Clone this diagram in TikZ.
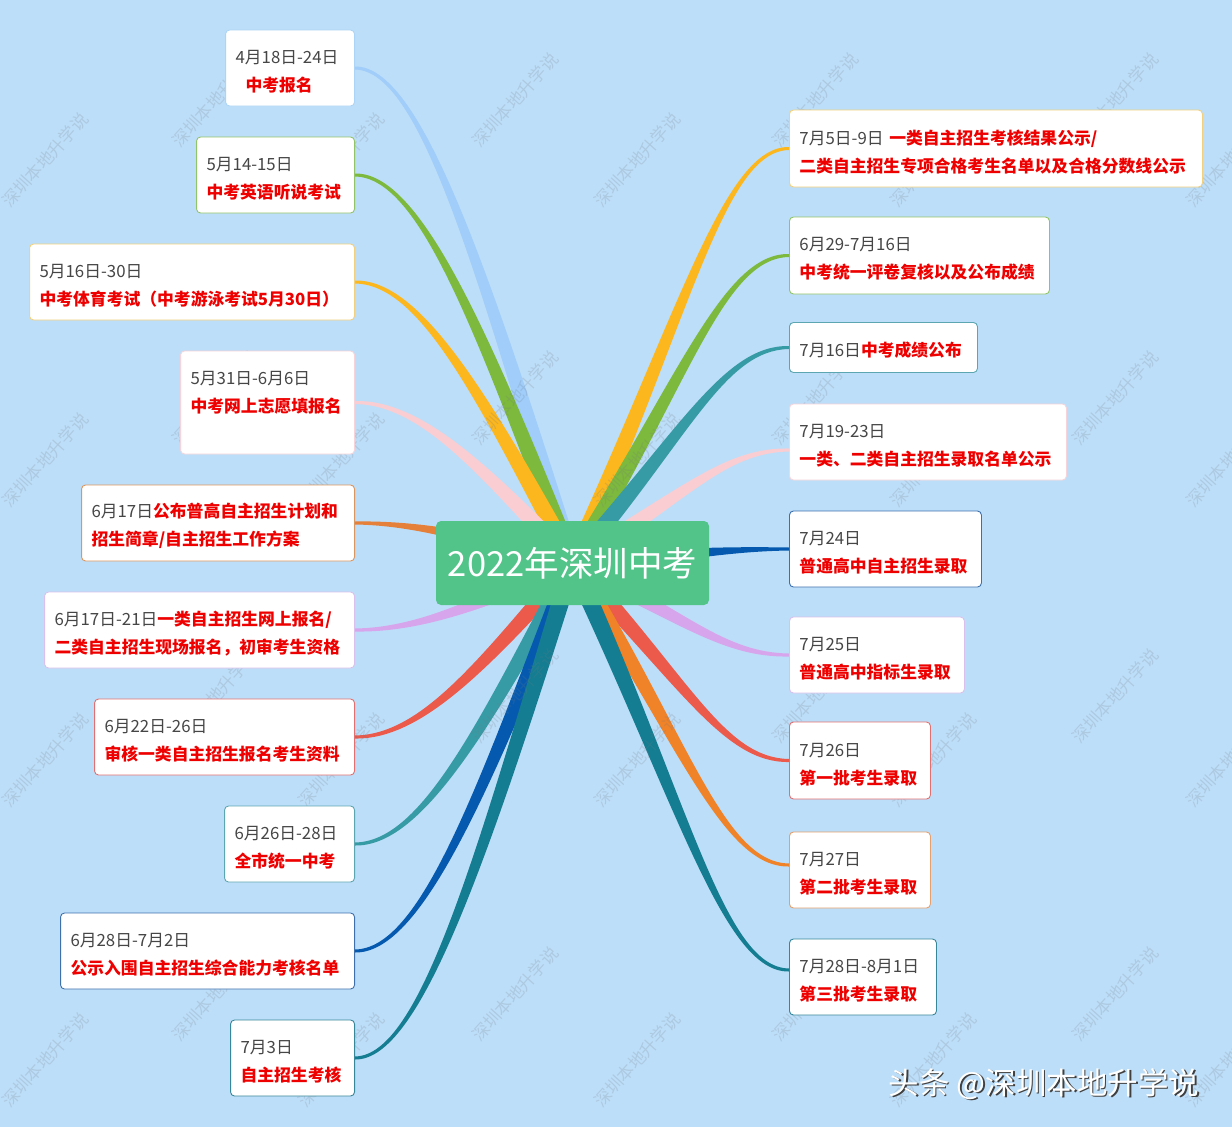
\documentclass[tikz,border=0pt]{standalone}
\usepackage{fontspec}
\setmainfont{Noto Sans CJK SC}
\usetikzlibrary{calc}
\definecolor{bgblue}{RGB}{189,222,248}
\definecolor{cgreen}{RGB}{82,196,138}
\definecolor{dategray}{RGB}{70,70,70}
\definecolor{txtred}{RGB}{238,0,0}
\definecolor{wmcol}{RGB}{110,120,135}
% ribbon colours
\definecolor{cLB}{RGB}{160,205,250}
\definecolor{cGR}{RGB}{125,185,60}
\definecolor{cYE}{RGB}{252,183,30}
\definecolor{cPK}{RGB}{250,205,210}
\definecolor{cOR}{RGB}{228,128,58}
\definecolor{cPU}{RGB}{215,165,235}
\definecolor{cRD}{RGB}{235,90,75}
\definecolor{cTL}{RGB}{55,155,165}
\definecolor{cBL}{RGB}{5,90,175}
\definecolor{cDT}{RGB}{20,125,145}
\definecolor{cOR2}{RGB}{240,130,40}
% border colours
\definecolor{bLB}{RGB}{172,212,246}
\definecolor{bGR}{RGB}{145,195,105}
\definecolor{bYE}{RGB}{242,208,125}
\definecolor{bPK}{RGB}{246,212,218}
\definecolor{bOR}{RGB}{218,150,95}
\definecolor{bPU}{RGB}{218,192,236}
\definecolor{bRD}{RGB}{226,112,112}
\definecolor{bTL}{RGB}{92,166,178}
\definecolor{bBL}{RGB}{62,112,172}
\definecolor{bDT}{RGB}{55,135,155}
\definecolor{bOR2}{RGB}{228,160,110}
\newcommand\redt[1]{\textcolor{txtred}{\bfseries #1}}
\pgfdeclarelayer{backlayer}
\pgfdeclarelayer{midlayer}
\pgfsetlayers{backlayer,midlayer,main}
% tapered ribbon: colour, start, end, x-factor of first control point
\newcommand\ribbon[4]{%
\fill[#1] let \p1=(#2), \p2=(#3),
  \p3=({\x1+#4*(\x2-\x1)},{\y1+0.6*(\y2-\y1)}),
  \p4=({\x2+0.3*(\x1-\x2)},{\y2}) in
  ($(\p1)!9pt!90:(\p3)$) .. controls ($(\p3)!6.5pt!-90:(\p1)$) and ($(\p4)!2.6pt!90:(\p2)$) .. ($(\p2)!1.5pt!-90:(\p4)$)
  -- ($(\p2)!1.5pt!90:(\p4)$) .. controls ($(\p4)!2.6pt!-90:(\p2)$) and ($(\p3)!6.5pt!90:(\p1)$) .. ($(\p1)!9pt!-90:(\p3)$) -- cycle;}
\tikzset{
  mbox/.style={draw=#1, fill=white, rounded corners=4pt, line width=0.9pt,
    inner xsep=10pt, inner ysep=0pt, align=left, minimum height=76pt,
    font=\fontsize{16.8}{28}\selectfont, text=dategray,
    execute at begin node={\rule{0pt}{20.8pt}}},
  lbox/.style={mbox=#1, anchor=east},
  rbox/.style={mbox=#1, anchor=west},
  wm/.style={text=wmcol, text opacity=0.2, rotate=48, font=\fontsize{17}{20}\selectfont, inner sep=0pt},
}
\begin{document}
\begin{tikzpicture}[x=1pt,y=-1pt]
\begin{pgfonlayer}{backlayer}
\fill[bgblue] (0,0) rectangle (1232,1127);
\end{pgfonlayer}
\useasboundingbox (0,0) rectangle (1232,1127);

% centre
\node[fill=cgreen, rounded corners=5pt, minimum width=273pt, minimum height=84pt,
      inner sep=0pt, text=white, font=\fontsize{34.5}{40}\selectfont] (c) at (572.5,563) {2022年深圳中考};

% left boxes
\node[lbox=bLB, text width=109pt] (l1) at (355,68) {4月18日-24日\\\hspace*{10pt}\redt{中考报名}};
\node[lbox=bGR, text width=138pt] (l2) at (355,175) {5月14-15日\\\redt{中考英语听说考试}};
\node[lbox=bYE, text width=305pt] (l3) at (355,282) {5月16日-30日\\\redt{中考体育考试（中考游泳考试5月30日）}};
\node[lbox=bPK, text width=154pt, minimum height=103pt] (l4) at (355,402.5) {5月31日-6月6日\\\redt{中考网上志愿填报名}\\\mbox{}};
\node[lbox=bOR, text width=253pt] (l5) at (355,523) {6月17日\redt{公布普高自主招生计划和}\\\redt{招生简章/自主招生工作方案}};
\node[lbox=bPU, text width=290pt] (l6) at (355,630) {6月17日-21日\redt{一类自主招生网上报名/}\\\redt{二类自主招生现场报名，初审考生资格}};
\node[lbox=bRD, text width=240pt] (l7) at (355,737) {6月22日-26日\\\redt{审核一类自主招生报名考生资料}};
\node[lbox=bTL, text width=110pt] (l8) at (355,844) {6月26日-28日\\\redt{全市统一中考}};
\node[lbox=bBL, text width=274pt] (l9) at (355,951) {6月28日-7月2日\\\redt{公示入围自主招生综合能力考核名单}};
\node[lbox=bDT, text width=104pt] (l10) at (355,1058) {7月3日\\\redt{自主招生考核}};

% right boxes
\node[rbox=bYE, text width=393pt, minimum height=77pt] (r1) at (789,148.5) {7月5日-9日 \redt{一类自主招生考核结果公示/}\\\redt{二类自主招生专项合格考生名单以及合格分数线公示}};
\node[rbox=bGR, text width=240pt, minimum height=77pt] (r2) at (789,255.5) {6月29-7月16日\\\redt{中考统一评卷复核以及公布成绩}};
\node[rbox=bTL, text width=168pt, minimum height=50pt] (r3) at (789,347.5) {7月16日\redt{中考成绩公布}};
\node[rbox=bPK, text width=257pt] (r4) at (789,442) {7月19-23日\\\redt{一类、二类自主招生录取名单公示}};
\node[rbox=bBL, text width=172pt] (r5) at (789,549) {7月24日\\\redt{普通高中自主招生录取}};
\node[rbox=bPU, text width=155pt] (r6) at (789,655) {7月25日\\\redt{普通高中指标生录取}};
\node[rbox=bRD, text width=121pt, minimum height=77pt] (r7) at (789,760.5) {7月26日\\\redt{第一批考生录取}};
\node[rbox=bOR2, text width=121pt] (r8) at (789,870) {7月27日\\\redt{第二批考生录取}};
\node[rbox=bDT, text width=127pt] (r9) at (789,977) {7月28日-8月1日\\\redt{第三批考生录取}};

% credit
\node[text=black!75, font=\fontsize{30.5}{34}\selectfont] (creditshadow) at (1045.5,1085.5) {头条 @深圳本地升学说};
\node[text=white, font=\fontsize{30.5}{34}\selectfont] (credit) at (1044,1084) {头条 @深圳本地升学说};

\begin{pgfonlayer}{midlayer}
% left ribbons
\ribbon{cLB}{c.center}{l1.east}{0.42}
\ribbon{cGR}{c.center}{l2.east}{0.42}
\ribbon{cYE}{c.center}{l3.east}{0.42}
\ribbon{cPK}{c.center}{l4.east}{0.42}
\ribbon{cOR}{c.center}{l5.east}{0.42}
\ribbon{cPU}{c.center}{l6.east}{0.42}
\ribbon{cRD}{c.center}{l7.east}{0.42}
\ribbon{cTL}{c.center}{l8.east}{0.42}
\ribbon{cBL}{c.center}{l9.east}{0.42}
\ribbon{cDT}{c.center}{l10.east}{0.42}
% right ribbons
\ribbon{cYE}{c.center}{r1.west}{0.52}
\ribbon{cGR}{c.center}{r2.west}{0.52}
\ribbon{cTL}{c.center}{r3.west}{0.52}
\ribbon{cPK}{c.center}{$(r4.west)+(0,8)$}{0.52}
\ribbon{cBL}{c.center}{r5.west}{0.52}
\ribbon{cPU}{c.center}{r6.west}{0.52}
\ribbon{cRD}{c.center}{r7.west}{0.52}
\ribbon{cOR2}{c.center}{$(r8.west)+(0,-5)$}{0.52}
\ribbon{cDT}{c.center}{$(r9.west)+(0,-7)$}{0.52}
% watermarks
\foreach \wx in {45,341,637,933,1229}
  \foreach \wy in {160,460,760,1060}
    \node[wm] (wa-\wx-\wy) at (\wx,\wy) {深圳本地升学说};
\foreach \wx in {215,515,815,1115}
  \foreach \wy in {100,398,696,994}
    \node[wm] (wb-\wx-\wy) at (\wx,\wy) {深圳本地升学说};
\end{pgfonlayer}
\end{tikzpicture}
\end{document}
